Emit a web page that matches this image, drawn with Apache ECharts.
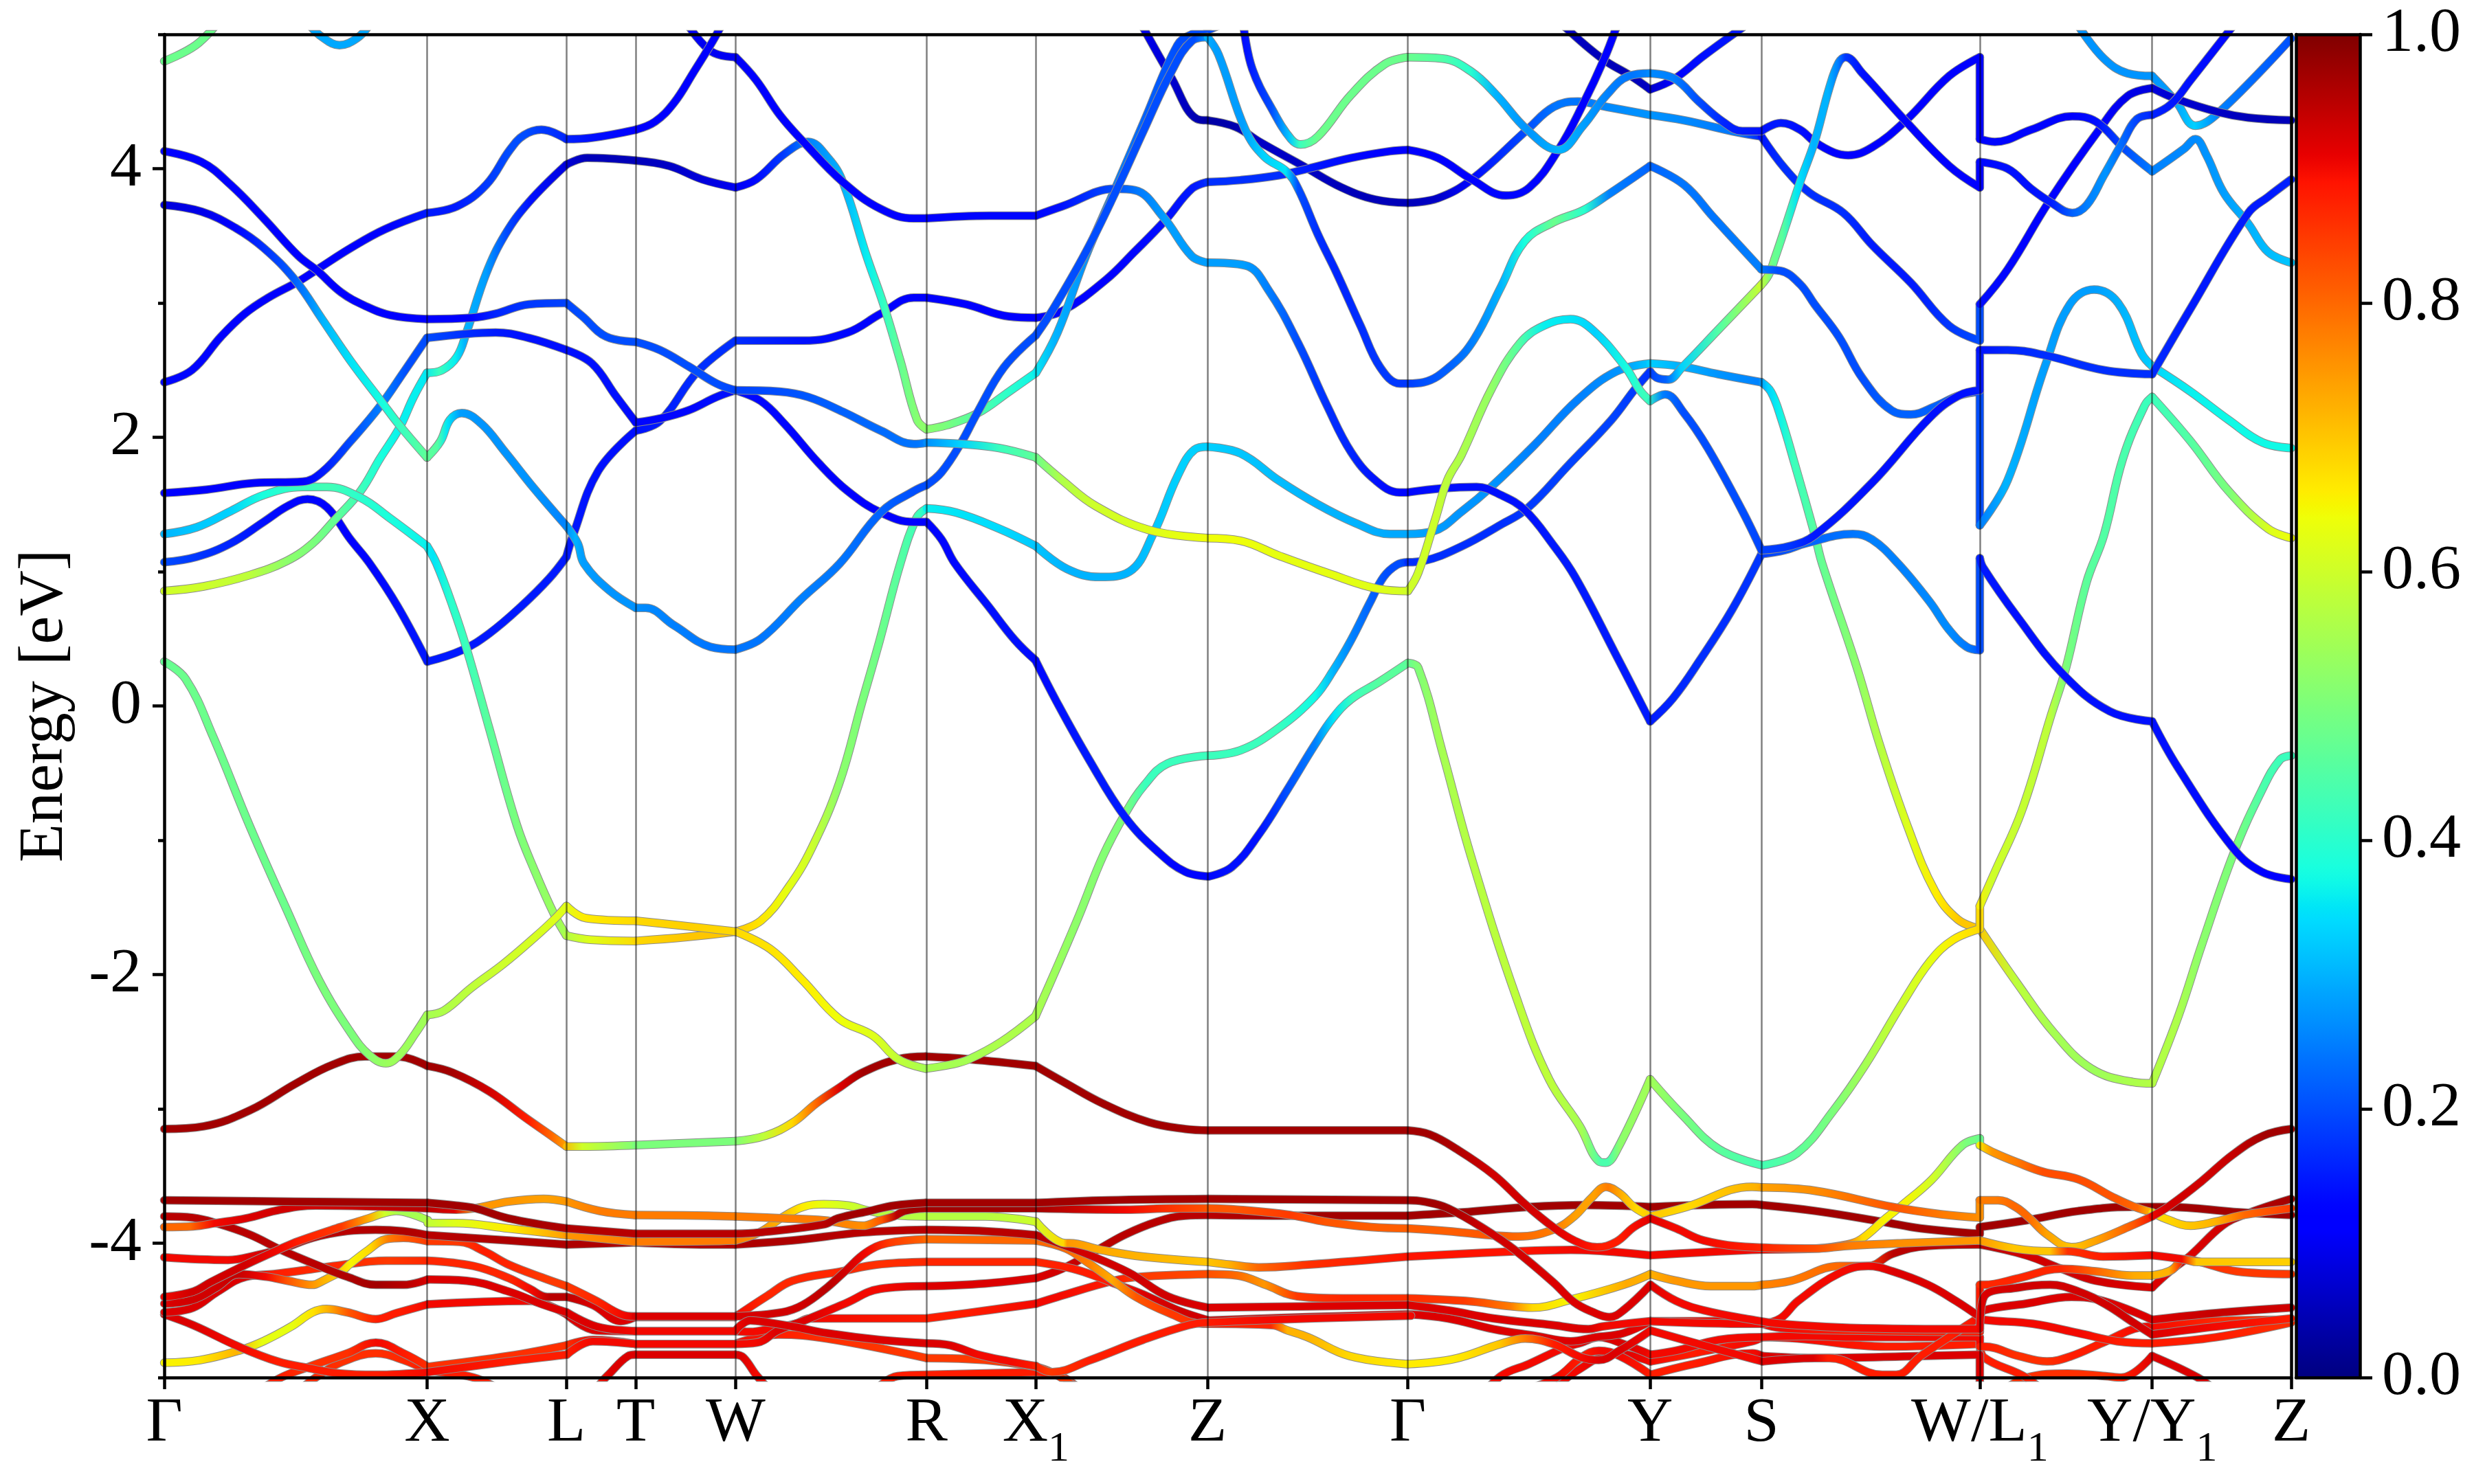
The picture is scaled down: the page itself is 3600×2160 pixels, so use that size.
<!DOCTYPE html>
<html><head><meta charset="utf-8"><style>html,body{margin:0;background:#fff}#c{width:3600px;height:2160px}</style>
<script src="https://cdn.jsdelivr.net/npm/echarts@6/dist/echarts.min.js"></script></head>
<body><div id="c"></div><script>
const tickK=[0,166.5,254.8,298.8,362,483,552.3,661,788,941.5,1012,1150.4,1259.6,1347.7];
const tickLabels=['{m|Γ}','{m|X}','{m|L}','{m|T}','{m|W}','{m|R}','{m|X}{s|1}','{m|Z}','{m|Γ}','{m|Y}','{m|S}','{m|W/L}{s|1}','{m|Y/Y}{s|1}','{m|Z}'];
const yMajor=[-4,-2,0,2,4];
const yMinor=[-5,-3,-1,1,3,5];
// each point: [k, energy, weight]
const bandA=[[0,4.13,.11],[23.6,4.05,.11],[42,3.88,.12],[63,3.63,.12],[85,3.35,.12],[97,3.24,.12],[112,3.08,.11],[127,2.98,.11],[143,2.91,.11],[166.5,2.88,.11],[195,2.89,.12],[210,2.92,.16],[231,2.99,.18],[254.8,3.0,.19],[265,2.9,.2],[280,2.75,.2],[298.8,2.71,.2],[314,2.65,.2],[332,2.53,.2],[350,2.4,.2],[362,2.35,.19],[390,2.34,.2],[408,2.30,.21],[430,2.19,.22],[454,2.05,.23],[475,1.95,.24],[483,1.96,.26],[505,1.95,.33],[529,1.92,.42],[552.3,1.85,.47],[569,1.68,.56],[590,1.49,.6],[624,1.31,.62],[661,1.25,.64],[682,1.23,.64],[706,1.12,.63],[737,.99,.63],[770,.87,.62],[788,.855,.6],[794.5,.99,.6],[805.6,1.4,.6],[813,1.68,.58],[822,1.87,.56],[841,2.36,.53],[859,2.70,.45],[874,2.83,.36],[891,2.88,.35],[905,2.80,.33],[926,2.52,.38],[935,2.35,.42],[941.5,2.27,.42],[951,2.32,.25],[963,2.18,.2],[978,1.92,.2],[1000,1.45,.2],[1012,1.16,.19],[1030,1.19,.18],[1045.7,1.27,.15],[1082,1.66,.14],[1119,2.15,.14],[1137,2.31,.14],[1150.4,2.35,.15],[1150.4,2.65,.14],[1168,2.65,.16],[1192,2.61,.17],[1229,2.5,.17],[1259.6,2.47,.17],[1284,2.96,.15],[1320.5,3.67,.15],[1333,3.79,.15],[1347.7,3.92,.16]];
const bandB=[[0,3.73,.08],[23.6,3.68,.09],[45,3.56,.12],[63,3.41,.17],[83,3.17,.22],[100,2.88,.3],[118,2.57,.35],[138,2.26,.38],[149,2.09,.42],[166.5,1.85,.47],[175,1.97,.45],[181,2.13,.35],[188.5,2.18,.28],[201,2.10,.27],[216,1.89,.27],[234.3,1.62,.27],[254.8,1.34,.25],[262,1.21,.3],[266,1.06,.28],[282,.86,.27],[298.8,.73,.27],[305,.73,.26],[323,.6,.25],[346,.44,.24],[362,.42,.24],[378,.5,.24],[404,.8,.25],[428,1.06,.24],[454,1.44,.22],[475,1.6,.2],[483,1.644,.2],[492.5,1.74,.2],[505,1.96,.2],[515,2.18,.2],[532,2.52,.2],[552.3,2.76,.2],[563,2.95,.2],[584,3.38,.2],[602.5,3.82,.2],[620.8,4.29,.2],[637.6,4.71,.2],[651,4.95,.2],[661,4.98,.3],[668,4.85,.28],[685,4.29,.28],[697,4.09,.33],[711,3.98,.35],[718.5,3.85,.2],[731,3.51,.17],[743,3.22,.16],[758,2.83,.17],[770.5,2.52,.18],[783,2.4,.18],[788,2.4,.18],[798,2.41,.2],[816,2.54,.22],[830,2.73,.25],[847,3.12,.3],[862,3.46,.38],[880,3.6,.48],[899,3.69,.4],[914,3.8,.25],[941.5,4.02,.22],[963,3.88,.24],[981.5,3.64,.24],[1012,3.25,.25],[1024,3.24,.2],[1036.5,3.14,.2],[1045.7,2.99,.2],[1061,2.75,.2],[1076,2.44,.2],[1094.5,2.2,.22],[1106.7,2.17,.22],[1122,2.23,.22],[1137,2.31,.2],[1150.4,2.34,.2],[1150.4,1.345,.24],[1168,1.68,.3],[1192,2.54,.28],[1207.5,2.99,.28],[1222.8,3.1,.28],[1238,3.0,.3],[1253,2.62,.32],[1259.6,2.53,.33],[1284,2.34,.36],[1308,2.13,.37],[1329.7,1.96,.37],[1347.7,1.92,.37]];
const bandC=[[0,2.41,.13],[17.5,2.5,.13],[36,2.75,.12],[51,2.92,.12],[66,3.04,.12],[85,3.16,.12],[97,3.25,.12],[118.3,3.41,.12],[140,3.55,.12],[166.5,3.67,.15],[185.5,3.72,.15],[204,3.88,.18],[219,4.14,.2],[228,4.25,.2],[239,4.29,.18],[254.8,4.22,.16],[271,4.23,.14],[298.8,4.29,.12],[311,4.35,.12],[323,4.49,.12],[335,4.71,.12],[350,5.0,.12],[356,5.15,.12]];
const bandD=[[333,5.05,.1],[347,4.87,.1],[362,4.83,.1],[375,4.66,.11],[390,4.4,.11],[405,4.2,.12],[430,3.9,.12],[454,3.7,.12],[475,3.63,.12],[483,3.63,.12],[523,3.65,.13],[552.3,3.65,.13],[569,3.72,.14],[602.5,3.85,.2],[615,3.84,.24],[633,3.64,.28],[651,3.35,.28],[661,3.3,.28],[685,3.28,.28],[700,3.09,.25],[718.5,2.70,.2],[737,2.23,.17],[752,1.89,.16],[767.4,1.68,.14],[782.7,1.59,.13],[788,1.59,.13],[810,1.62,.14],[831.5,1.63,.14],[847,1.57,.14],[862,1.46,.14],[880,1.2,.15],[894,.96,.15],[919,.4,.15],[941.5,-.115,.15],[956,.057,.16],[973,.34,.17],[993.6,.72,.17],[1012,1.13,.18],[1027,1.16,.2],[1040,1.21,.22],[1070,1.28,.24],[1082,1.24,.25],[1098.6,1.06,.25],[1119,.77,.26],[1130.7,.57,.26],[1142,.44,.24],[1150.4,.415,.2],[1150.4,1.1,.16],[1152.5,1.03,.15],[1174.4,.66,.14],[1203.6,.23,.14],[1232.7,-.04,.14],[1259.6,-.115,.14],[1276,-.46,.14],[1311,-1.06,.13],[1329,-1.235,.12],[1347.7,-1.29,.12]];
const bandF=[[0,1.585,.12],[26.6,1.61,.12],[57,1.66,.12],[87.7,1.67,.12],[100,1.74,.15],[118,1.97,.2],[136.6,2.23,.25],[152,2.49,.2],[166.5,2.74,.2],[191.5,2.77,.17],[210,2.78,.15],[231,2.74,.14],[254.8,2.65,.14],[271,2.55,.14],[286,2.31,.14],[298.8,2.11,.13],[314,2.14,.13],[332,2.2,.13],[350,2.3,.14],[362,2.35,.14],[378,2.27,.13],[393,2.1,.13],[414.5,1.81,.12],[433,1.6,.12],[454,1.44,.12],[475,1.37,.11],[483,1.37,.11],[492.5,1.24,.13],[501,1.06,.13],[522,.745,.14],[539,.49,.14],[552,.34,.13],[565.5,.03,.14],[586,-.4,.15],[609,-.83,.15],[630,-1.09,.13],[647,-1.235,.13],[661.5,-1.27,.13],[676.4,-1.2,.14],[694,-.95,.14],[711.3,-.63,.2],[729,-.29,.25],[740.5,-.09,.35],[752,.05,.42],[770,.18,.46],[788,.32,.46],[794.5,.285,.5],[810.5,-.37,.55],[828,-1.12,.57],[857,-2.18,.58],[877.5,-2.78,.58],[897,-3.13,.55],[909,-3.39,.44],[913.4,-3.4,.44],[920.7,-3.3,.52],[941.5,-2.78,.55],[961.5,-3.04,.5],[985,-3.30,.46],[1012.6,-3.42,.43],[1034.5,-3.33,.46],[1057.8,-3.01,.5],[1078,-2.67,.55],[1101.5,-2.21,.6],[1119,-1.9,.63],[1133.6,-1.74,.66],[1150.4,-1.66,.68],[1150.4,-1.49,.66],[1160,-1.235,.6],[1177,-.78,.59],[1195,-.09,.58],[1205,.285,.5],[1218,.92,.46],[1229,1.27,.45],[1241,1.84,.44],[1255,2.24,.42],[1259.6,2.3,.42],[1284,1.97,.45],[1308,1.6,.5],[1333,1.32,.62],[1347.7,1.25,.64]];
const bandG=[[0,.33,.47],[13.6,.2,.48],[31,-.23,.48],[54,-.89,.48],[77.7,-1.52,.48],[98,-2.04,.5],[118.6,-2.44,.5],[130,-2.6,.52],[140.4,-2.66,.54],[149,-2.6,.54],[159,-2.44,.54],[166.7,-2.3,.55],[177,-2.27,.56],[194.4,-2.1,.58],[215,-1.92,.6],[235,-1.72,.61],[247,-1.59,.62],[254.8,-1.49,.62],[267.3,-1.58,.66],[298.8,-1.6,.68],[331.4,-1.64,.69],[362,-1.68,.68],[384,-1.81,.67],[404.3,-2.04,.66],[427.7,-2.33,.64],[449,-2.455,.62],[465,-2.63,.58],[482.5,-2.7,.55],[498.5,-2.67,.55],[510,-2.63,.55],[530.5,-2.5,.56],[552,-2.31,.56],[565.5,-1.95,.54],[580,-1.55,.52],[594.7,-1.12,.51],[609,-.8,.5],[621,-.59,.42],[635.5,-.43,.42],[661.5,-.37,.42],[682,-.33,.42],[705.5,-.17,.42],[729,.07,.37],[740.5,.26,.3],[752,.49,.25],[764,.77,.22],[772.6,.96,.2],[781,1.05,.2],[788,1.07,.17],[798,1.08,.17],[822.4,1.19,.17],[847,1.35,.17],[863.6,1.47,.18],[889.6,1.79,.19],[917,2.13,.19],[932,2.36,.18],[941.5,2.49,.17],[946.4,2.44,.2],[953,2.43,.22],[961.7,2.52,.33],[984.6,2.8,.45],[1011.5,3.13,.6],[1016.6,3.21,.55],[1021,3.35,.48],[1027,3.56,.46],[1036.5,3.9,.35],[1045.7,4.2,.3],[1055,4.6,.3],[1061,4.79,.25],[1065.5,4.83,.18],[1076,4.71,.14],[1103.7,4.35,.12],[1131,4.02,.11],[1150.4,3.86,.11],[1150.4,4.05,.13],[1168,4.0,.14],[1183,3.85,.14],[1195.3,3.75,.15],[1209,3.67,.22],[1218.2,3.73,.25],[1229,3.95,.27],[1241,4.2,.22],[1250,4.37,.18],[1259.6,4.40,.16],[1271.6,4.48,.15],[1284,4.66,.14],[1310,5.05,.13]];
const bandL=[[0,1.28,.3],[20.5,1.33,.32],[42,1.45,.33],[63,1.57,.38],[87.7,1.63,.42],[103,1.63,.43],[124.4,1.55,.4],[142.7,1.40,.38],[166.5,1.19,.36],[172.5,1.06,.35],[182.7,.745,.4],[191.5,.43,.42],[206,-.17,.46],[223.5,-.89,.5],[235,-1.235,.52],[247,-1.55,.54],[254.8,-1.71,.56],[270,-1.74,.62],[298.8,-1.75,.68],[331.4,-1.72,.7],[362,-1.68,.7],[378,-1.6,.67],[395.6,-1.35,.63],[410.2,-1.06,.6],[427.7,-.575,.52],[442.2,.03,.5],[453.3,.487,.48],[466.4,1.06,.45],[476.7,1.4,.42],[483,1.47,.36],[501.7,1.44,.35],[529,1.32,.34],[552.3,1.19,.32],[572,1.02,.3],[593,.96,.3],[611.6,1.0,.3],[627,1.29,.32],[642,1.71,.33],[653,1.91,.33],[661,1.93,.33],[682,1.88,.32],[706,1.68,.31],[731,1.5,.3],[755,1.36,.3],[776.6,1.28,.29],[788,1.28,.29],[804,1.3,.28],[822.4,1.45,.27],[840.7,1.63,.27],[868,1.94,.25],[895.7,2.28,.25],[920,2.49,.27],[941.5,2.55,.33],[960,2.53,.3],[984.6,2.47,.27],[1012,2.41,.25],[1018,2.34,.33],[1024.3,2.15,.36],[1033.4,1.79,.42],[1045.7,1.28,.45],[1050.5,1.06,.47],[1072.4,.29,.52],[1087,-.29,.57],[1104.4,-.89,.62],[1122,-1.38,.66],[1136.5,-1.59,.7],[1150.4,-1.66,.7],[1174.4,-2.07,.58],[1197.8,-2.44,.55],[1221,-2.7,.54],[1247.3,-2.8,.56],[1259.6,-2.81,.57],[1276.5,-2.3,.56],[1291,-1.78,.52],[1311.5,-1.09,.5],[1329,-.63,.44],[1340.6,-.4,.42],[1347.7,-.37,.42]];
const bandM=[[0,.855,.6],[25,.89,.6],[54.4,.975,.58],[77.7,1.08,.52],[94,1.21,.5],[107.6,1.38,.47],[124.4,1.6,.42],[136.6,1.84,.38],[149,2.07,.36],[158,2.3,.36],[166.5,2.48,.35],[176,2.5,.42],[185.5,2.6,.36],[191.5,2.78,.3],[204,3.22,.28],[216,3.51,.2],[231,3.75,.14],[254.8,4.03,.08],[268,4.08,.05],[298.8,4.06,.05],[320,4.02,.06],[341,3.92,.08],[362,3.86,.1],[375,3.92,.13],[393,4.11,.18],[408,4.2,.25],[420.6,4.08,.28],[430,3.9,.3],[445,3.35,.36],[455.7,2.99,.42],[466.4,2.57,.48],[477,2.13,.52],[483,2.06,.52],[495.6,2.09,.5],[515.5,2.18,.45],[535.3,2.34,.4],[552.3,2.48,.36],[566,2.78,.3],[584,3.35,.27],[602.5,3.85,.25],[620.8,4.35,.22],[642,4.92,.2],[651,5.0,.2],[661,5.03,.2],[675,5.1,.2]];
const bandP=[[684,5.05,.13],[689.5,4.74,.15],[703,4.42,.2],[714,4.22,.32],[720,4.18,.42],[731,4.24,.48],[752,4.55,.48],[773.5,4.78,.48],[788,4.83,.48],[810,4.82,.45],[828.5,4.72,.4],[844,4.55,.3],[863.6,4.29,.27],[883.4,4.14,.3],[899,4.32,.28],[914,4.55,.25],[928,4.69,.24],[941.5,4.71,.26],[957,4.67,.25],[972.4,4.5,.2],[987.6,4.35,.16],[1000,4.28,.15],[1012,4.28,.14],[1024.3,4.34,.15],[1036.5,4.29,.14],[1045.7,4.2,.13],[1058,4.12,.12],[1067,4.1,.11],[1082.3,4.16,.11],[1103.7,4.36,.11],[1131,4.69,.11],[1150.4,4.83,.11],[1150.4,4.22,.12],[1160,4.2,.13],[1183,4.29,.13],[1209,4.39,.12],[1224,4.35,.14],[1241,4.16,.2],[1259.6,3.98,.25],[1280,4.15,.26],[1287,4.22,.26],[1294,4.1,.27],[1305,3.82,.28],[1320.5,3.59,.3],[1333,3.38,.31],[1347.7,3.3,.32]];
const bandK=[[0,1.07,.2],[20.5,1.11,.18],[42,1.21,.16],[63,1.37,.14],[78.5,1.49,.13],[90.8,1.54,.13],[103,1.48,.12],[118,1.24,.12],[130.2,1.06,.13],[147.7,.745,.14],[166.7,.33,.15],[188.6,.415,.15],[206,.54,.15],[226.5,.745,.15],[244,.95,.15],[254.8,1.11,.15],[259,1.27,.15],[275,1.75,.14],[298.8,2.05,.14],[314,2.12,.15],[338,2.49,.17],[362,2.72,.17],[405,2.72,.14],[433,2.78,.13],[454,2.92,.12],[475,3.04,.12],[483,3.04,.12],[508,2.99,.12],[535,2.9,.12],[552.3,2.89,.12],[569,2.94,.13],[596.4,3.17,.12],[614.7,3.38,.13],[634.6,3.62,.14],[651,3.85,.15],[661,3.9,.17],[682,3.915,.17],[706,3.95,.17],[724.6,4.0,.15],[752,4.08,.13],[776.6,4.13,.12],[788,4.14,.12],[807,4.08,.12],[828.5,3.92,.12],[850,3.8,.13],[865,3.86,.13],[883.4,4.14,.12],[899,4.48,.12],[912.5,4.82,.12],[920,5.05,.12]];
const bandJ=[[618,5.1,.1],[637.6,4.69,.07],[654.4,4.37,.04],[661,4.36,.03],[679,4.31,.04],[694,4.2,.06],[721.6,4.02,.06],[746,3.86,.05],[767.4,3.77,.05],[788,3.745,.05],[807,3.78,.06],[828.5,3.92,.13],[863.6,4.29,.2],[880.4,4.46,.24],[895.7,4.5,.24],[914,4.46,.26],[941.5,4.4,.27],[963,4.36,.26],[997,4.27,.24],[1012,4.24,.14],[1027,4.0,.17],[1042.6,3.82,.17],[1064,3.67,.17],[1082.3,3.43,.15],[1106.7,3.15,.15],[1131,2.83,.18],[1150.4,2.72,.2],[1150.4,2.99,.14],[1168,3.25,.13],[1194,3.75,.12],[1226,4.29,.12],[1244,4.54,.09],[1259.6,4.6,.08],[1274.7,4.52,.07],[1302,4.42,.06],[1320.5,4.38,.05],[1347.7,4.36,.05]];
const bandN=[[888,5.05,.06],[911,4.82,.05],[929.3,4.69,.05],[941.5,4.59,.06],[957,4.67,.12],[975.4,4.84,.14],[1000,5.05,.15]];
const bandS=[[1213.6,5.05,.27],[1229,4.82,.27],[1244,4.71,.27],[1259.6,4.69,.27],[1274.7,4.5,.28],[1287,4.32,.33],[1302,4.42,.25],[1347.7,4.97,.2]];
const bandTopA=[[0,4.8,.48],[20,4.92,.48],[35,5.1,.48]];
const bandTopB=[[92,5.07,.29],[100,4.98,.29],[111,4.92,.29],[122,4.97,.29],[130,5.07,.29]];
const bandQ=[[0,-3.15,.97],[25,-3.13,.97],[54.4,-3.01,.97],[83.6,-2.81,.97],[107,-2.67,.97],[127.3,-2.61,.97],[147.7,-2.61,.97],[166.7,-2.68,.97],[182.7,-2.73,.97],[206,-2.87,.93],[229.4,-3.07,.88],[244,-3.19,.8],[254.8,-3.28,.72],[266,-3.28,.6],[298.8,-3.27,.5],[362,-3.24,.5],[381,-3.2,.58],[398.5,-3.1,.68],[413,-2.96,.8],[428,-2.84,.92],[442.3,-2.73,.97],[465,-2.63,.97],[482.5,-2.61,.97],[510,-2.63,.97],[552,-2.68,.97],[571.4,-2.81,.97],[594.7,-2.96,.97],[624,-3.1,.97],[647,-3.15,.97],[661.5,-3.16,.97],[787.7,-3.16,.97],[801.7,-3.19,.97],[819,-3.3,.96],[842.3,-3.49,.93],[862.3,-3.71,.93],[880,-3.88,.92],[893.4,-3.98,.9],[907.9,-4.03,.88],[920,-3.99,.88],[931.2,-3.88,.9],[941.7,-3.815,.92],[958,-3.89,.9],[975.6,-3.98,.9],[1006.3,-4.03,.88],[1046,-4.04,.83],[1066.3,-4.02,.78],[1101.9,-4.0,.76],[1150.4,-3.98,.75],[1173,-4.04,.7],[1195.2,-4.06,.7],[1206,-4.06,.86],[1228.5,-4.10,.88],[1259.6,-4.09,.9],[1279.7,-4.12,.9],[1288.5,-4.14,.7],[1347.7,-4.14,.69]];
const bandR=[[0,-3.68,.97],[83,-3.69,.97],[167,-3.70,.97],[185,-3.72,.97],[197,-3.74,.97],[218,-3.815,.97],[255,-3.89,.96],[298.3,-3.93,.95],[344.5,-3.93,.95],[361.7,-3.93,.95],[376.8,-3.92,.95],[418,-3.86,.95],[426.8,-3.815,.97],[446.8,-3.76,.97],[462.4,-3.72,.97],[482.4,-3.70,.97],[552.4,-3.70,.97],[598,-3.68,.97],[661.7,-3.67,.97],[788,-3.68,.97],[798,-3.69,.97],[813.4,-3.74,.97],[840,-3.92,.93],[855.7,-4.05,.93],[880,-4.29,.92],[893.4,-4.44,.92],[904.6,-4.51,.92],[915.6,-4.55,.92],[924.5,-4.5,.92],[941.7,-4.31,.92],[958,-4.43,.9],[975.6,-4.5,.9],[1006,-4.57,.9],[1024,-4.6,.9],[1068,-4.63,.9],[1150.4,-4.64,.9],[1153,-4.4,.92],[1175,-4.33,.93],[1195,-4.31,.93],[1213,-4.36,.93],[1230.8,-4.46,.93],[1246.3,-4.58,.93],[1259.6,-4.68,.92],[1300,-4.62,.9],[1347.7,-4.56,.88]];
const bandO=[[0,-3.88,.8],[18.3,-3.875,.8],[32.8,-3.85,.9],[51.7,-3.815,.92],[73.9,-3.75,.93],[96,-3.72,.93],[167,-3.74,.95],[185,-3.75,.92],[197,-3.74,.75],[218.3,-3.69,.75],[240.5,-3.67,.74],[255,-3.69,.75],[276,-3.76,.78],[298.3,-3.79,.78],[344.5,-3.795,.78],[361.7,-3.80,.78],[391.3,-3.815,.78],[418,-3.83,.78],[442.4,-3.87,.76],[453.5,-3.83,.82],[462.4,-3.8,.95],[469,-3.76,.97],[482,-3.74,.97],[552.4,-3.74,.97],[609,-3.75,.9],[640,-3.74,.85],[661.7,-3.74,.82],[680,-3.75,.82],[713.4,-3.79,.85],[735.7,-3.84,.82],[764.6,-3.88,.81],[788,-3.89,.81],[813.4,-3.91,.81],[840,-3.94,.82],[858,-3.95,.8],[880,-3.90,.78],[893.4,-3.8,.74],[904.6,-3.66,.74],[913.5,-3.58,.78],[922.3,-3.63,.72],[931.2,-3.73,.68],[941.7,-3.8,.7],[964.5,-3.73,.68],[1006,-3.58,.72],[1012.6,-3.585,.74],[1046,-3.61,.76],[1095,-3.73,.82],[1126,-3.785,.78],[1150.4,-3.81,.76],[1150.4,-3.68,.78],[1162,-3.68,.78],[1173,-3.73,.8],[1182,-3.815,.8],[1193,-3.935,.74],[1208.5,-4.03,.7],[1224,-3.98,.74],[1246.3,-3.87,.82],[1259.6,-3.8,.9],[1270.8,-3.72,.93],[1290.8,-3.54,.93],[1310.8,-3.34,.94],[1330,-3.2,.97],[1347.7,-3.15,.97]];
const bandY=[[0,-4.40,.9],[18.3,-4.36,.93],[29.4,-4.29,.93],[51.7,-4.16,.93],[74,-4.04,.9],[85,-3.985,.88],[111.6,-3.88,.85],[129.4,-3.815,.72],[138,-3.78,.6],[147,-3.76,.55],[156,-3.78,.55],[167,-3.83,.56],[167,-3.85,.58],[185,-3.85,.62],[218,-3.89,.66],[255,-3.94,.75],[298,-3.99,.78],[344.5,-3.985,.78],[361.7,-3.98,.78],[377,-3.92,.76],[391.3,-3.81,.72],[404.6,-3.73,.66],[418,-3.71,.63],[433.5,-3.72,.6],[446.8,-3.76,.58],[462.4,-3.79,.57],[482.4,-3.8,.57],[520,-3.80,.57],[552.4,-3.84,.6],[571.3,-4.0,.68],[573.5,-4.0,.75],[593.5,-4.05,.73],[620,-4.10,.72],[661.7,-4.14,.7],[675.7,-4.16,.72],[693.5,-4.18,.8],[724.6,-4.16,.86],[787.9,-4.10,.89],[857.9,-4.06,.89],[891.2,-4.05,.9],[941.7,-4.09,.9],[1006,-4.05,.9],[1046.3,-4.04,.88],[1066.3,-4.01,.78],[1075.2,-3.97,.68],[1090.8,-3.815,.65],[1101.9,-3.71,.65],[1119.7,-3.53,.6],[1139.4,-3.27,.5],[1150.4,-3.22,.48],[1150.4,-3.27,.65],[1160,-3.33,.75],[1174.4,-3.40,.78],[1190.8,-3.47,.83],[1213,-3.525,.83],[1235.2,-3.66,.82],[1248.5,-3.73,.8],[1259.6,-3.77,.68],[1268.5,-3.82,.68],[1284,-3.87,.7],[1299.7,-3.84,.72],[1317.4,-3.79,.8],[1347.7,-3.74,.85]];
const bandD2=[[0,-3.80,.95],[18.3,-3.81,.95],[32.8,-3.85,.95],[54,-3.935,.95],[74,-4.05,.95],[98.3,-4.17,.95],[116,-4.25,.96],[134,-4.31,.97],[151.6,-4.31,.95],[167,-4.27,.92],[191.6,-4.28,.92],[218.3,-4.36,.92],[238.3,-4.45,.92],[255,-4.515,.92],[273.9,-4.62,.92],[298.3,-4.655,.9],[361.7,-4.655,.9],[371.3,-4.575,.92],[382.4,-4.59,.92],[398,-4.62,.92],[420,-4.67,.92],[453.5,-4.72,.92],[483,-4.745,.92],[498,-4.76,.92],[515.7,-4.83,.9],[535.7,-4.88,.9],[552.4,-4.915,.88],[562.4,-4.96,.85],[586.8,-4.87,.88],[620,-4.72,.88],[649,-4.61,.88],[661.7,-4.59,.88],[700,-4.57,.9],[790,-4.54,.9]];
const bandE1=[[0,-4.105,.9],[40.5,-4.125,.9],[58.3,-4.09,.92],[75,-4.04,.95],[94,-3.96,.95],[116,-3.91,.95],[134,-3.9,.96],[151.6,-3.91,.96],[167,-3.94,.95],[218.3,-3.98,.96],[255,-4.01,.96],[298,-3.995,.96],[344.5,-4.01,.96],[361.7,-4.01,.96],[398,-3.98,.96],[442.4,-3.92,.95],[482.4,-3.90,.95],[520,-3.91,.95],[552.4,-3.94,.95],[566.8,-4.0,.95],[582.4,-4.07,.93],[611.3,-4.22,.93],[635.7,-4.395,.93],[661.7,-4.48,.92],[724.6,-4.47,.92],[788,-4.46,.92],[813.4,-4.5,.92],[842.3,-4.56,.92],[880,-4.61,.92],[902.3,-4.64,.92],[911.2,-4.62,.9],[941.7,-4.58,.9],[1006.3,-4.60,.9],[1012.6,-4.60,.9],[1024,-4.56,.9],[1035.2,-4.43,.9],[1061.9,-4.22,.9],[1079.7,-4.17,.9],[1095.2,-4.21,.92],[1117.5,-4.31,.92],[1135.2,-4.43,.92],[1150.4,-4.55,.92],[1153,-4.5,.92],[1179.7,-4.45,.92],[1208.5,-4.40,.92],[1228.5,-4.43,.92],[1259.6,-4.57,.92],[1300,-4.52,.94],[1347.7,-4.48,.93]];
const bandE2=[[0,-4.45,.92],[18.3,-4.42,.93],[33,-4.33,.93],[47.2,-4.23,.94],[65,-4.25,.9],[78.3,-4.28,.82],[93.9,-4.31,.75],[100.5,-4.28,.72],[107.2,-4.24,.7],[112.7,-4.21,.68],[117.2,-4.16,.65],[129.4,-4.05,.68],[140.5,-3.97,.78],[151.6,-3.96,.82],[167,-3.985,.85],[187,-3.99,.85],[202.7,-4.06,.88],[218.3,-4.16,.87],[240.5,-4.26,.85],[255,-4.32,.85],[273.9,-4.43,.87],[289.4,-4.53,.9],[298.3,-4.545,.92],[361.7,-4.545,.92],[391.3,-4.515,.93],[404.6,-4.46,.93],[420,-4.33,.95],[431.3,-4.21,.93],[444.6,-4.07,.9],[458,-4.0,.85],[483,-3.97,.8],[552.4,-3.98,.8],[571.3,-4.04,.8],[584.6,-4.14,.78],[600.2,-4.27,.73],[615.7,-4.40,.82],[635.7,-4.515,.85],[658,-4.6,.86],[661.7,-4.6,.88],[702,-4.61,.87],[712,-4.65,.72],[724.6,-4.70,.72],[751.2,-4.84,.68],[787.9,-4.90,.66],[817.9,-4.86,.66],[846.8,-4.75,.7],[862.3,-4.71,.78],[880,-4.75,.88],[897.9,-4.85,.9],[909,-4.87,.92],[922,-4.80,.92],[941.7,-4.65,.9],[969,-4.74,.9],[1006.3,-4.86,.9],[1012.6,-4.88,.92],[1046,-4.855,.92],[1055,-4.855,.88],[1088.6,-4.98,.88],[1097.4,-4.98,.88],[1113,-4.84,.88],[1139.7,-4.63,.88],[1150.4,-4.55,.9],[1153,-4.57,.9],[1184,-4.6,.9],[1213,-4.67,.9],[1237.4,-4.73,.88],[1259.6,-4.745,.88],[1300,-4.7,.88],[1347.7,-4.59,.86]];
const bandF2=[[0,-4.515,.92],[18.3,-4.48,.92],[33.9,-4.36,.92],[51.7,-4.25,.92],[69.4,-4.23,.88],[89.4,-4.2,.87],[107.2,-4.17,.87],[140.5,-4.13,.85],[167,-4.13,.87],[196,-4.17,.87],[218.3,-4.26,.87],[231.6,-4.34,.9],[242.7,-4.40,.95],[255,-4.40,.95],[271.6,-4.46,.92],[289.4,-4.58,.92],[298.3,-4.55,.92],[361.7,-4.55,.9],[382.4,-4.39,.87],[398,-4.28,.87],[429,-4.21,.87],[451.3,-4.16,.86],[483,-4.14,.87],[552.4,-4.14,.87],[575.7,-4.19,.88],[593.5,-4.26,.88],[602,-4.3,.88],[620,-4.38,.92],[642.4,-4.5,.93],[661.7,-4.575,.93],[724.6,-4.55,.92],[788,-4.53,.92],[813.4,-4.56,.92],[842.3,-4.64,.92],[869,-4.69,.92],[891.2,-4.73,.92],[906.8,-4.70,.92],[924.5,-4.67,.92],[941.7,-4.58,.9],[1006,-4.58,.9],[1012.6,-4.60,.9],[1024,-4.63,.9],[1068.6,-4.65,.88],[1150.4,-4.66,.88],[1150.4,-4.31,.86],[1153,-4.31,.87],[1175.2,-4.26,.87],[1201.9,-4.19,.87],[1224,-4.21,.8],[1246.3,-4.24,.73],[1259.6,-4.24,.72],[1271.9,-4.2,.72],[1279.7,-4.12,.88],[1290,-4.14,.86],[1313,-4.21,.85],[1347.7,-4.23,.85]];
const bandG2=[[0,-4.53,.92],[18.3,-4.61,.92],[47.2,-4.77,.9],[71.7,-4.88,.88],[91.6,-4.93,.88],[111.6,-4.97,.88],[134,-4.98,.88],[167,-4.96,.9],[218.3,-4.88,.88],[255,-4.83,.88],[271.6,-4.73,.9],[298.3,-4.75,.9],[361.7,-4.75,.9],[375.7,-4.74,.9],[389,-4.65,.92],[406.8,-4.57,.92],[431.3,-4.45,.9],[453.5,-4.34,.9],[483,-4.32,.92],[520,-4.30,.92],[552.4,-4.26,.92],[569,-4.19,.93],[591.3,-4.05,.95],[609,-3.935,.95],[629,-3.84,.95],[646.9,-3.795,.95],[661.7,-3.79,.95],[713.4,-3.795,.97],[788,-3.795,.97],[822.3,-3.77,.97],[864.6,-3.73,.97],[900.1,-3.716,.97],[941.7,-3.73,.97],[1006.3,-3.71,.97],[1012.6,-3.716,.97],[1046.3,-3.76,.97],[1088.6,-3.84,.97],[1113,-3.89,.97],[1150.4,-3.93,.97],[1150.4,-3.88,.97],[1179.7,-3.83,.97],[1213,-3.76,.97],[1246.3,-3.73,.97],[1268.5,-3.73,.97],[1315,-3.77,.97],[1347.7,-3.79,.97]];
const bandH=[[0,-4.89,.65],[22.8,-4.87,.66],[47.2,-4.8,.72],[62.8,-4.73,.63],[80.5,-4.62,.63],[93.9,-4.515,.67],[102.8,-4.49,.72],[116,-4.515,.82],[134,-4.565,.88],[147.2,-4.52,.88],[167,-4.455,.9],[231.6,-4.43,.9],[242.7,-4.46,.9],[255,-4.53,.92],[273.9,-4.65,.92],[298.3,-4.655,.9],[361.7,-4.655,.9],[371,-4.66,.9],[386.8,-4.63,.9],[400,-4.6,.92],[409,-4.56,.9],[483,-4.56,.88],[509,-4.52,.88],[552.4,-4.45,.9],[566,-4.4,.9],[601.3,-4.28,.88],[618,-4.25,.85],[661.7,-4.23,.83],[680,-4.24,.8],[697.9,-4.31,.75],[717.9,-4.395,.85],[746.8,-4.41,.87],[787.9,-4.41,.86],[824.6,-4.43,.85],[853.4,-4.47,.78],[866.8,-4.48,.68],[891.2,-4.42,.65],[924.5,-4.31,.73],[941.7,-4.23,.72],[958,-4.28,.75],[980,-4.32,.75],[1006.3,-4.32,.75],[1012.6,-4.31,.77],[1030.8,-4.28,.78],[1061.9,-4.17,.8],[1079.7,-4.17,.85],[1095,-4.08,.95],[1117.5,-4.02,.95],[1150.4,-4.01,.95],[1179.7,-4.09,.93],[1201.9,-4.19,.93],[1224,-4.28,.93],[1259.6,-4.33,.92],[1270.8,-4.21,.92],[1284,-4.09,.92],[1304,-3.87,.93],[1317.4,-3.79,.95],[1347.7,-3.67,.97]];
const bandU=[[60,-5.1,.88],[74,-5.0,.88],[91.6,-4.92,.86],[116,-4.82,.86],[134,-4.74,.9],[151.6,-4.82,.88],[167,-4.92,.86],[218,-4.84,.86],[255,-4.76,.86],[271.6,-4.72,.9],[298.3,-4.75,.9],[361.7,-4.75,.9],[389,-4.68,.88],[420,-4.71,.86],[483,-4.855,.85],[520,-4.87,.85],[552.4,-4.92,.85],[562,-4.96,.85],[575,-5.05,.85]];
const bandU2=[[85,-5.1,.87],[96,-5.0,.87],[111.6,-4.89,.86],[134,-4.82,.86],[151.6,-4.87,.87],[167,-4.95,.88],[196,-5.0,.88],[230,-5.15,.88],[270,-5.1,.88],[280.5,-4.99,.92],[293.9,-4.84,.92],[298.3,-4.83,.92],[361.7,-4.83,.92],[366.9,-4.85,.92],[375.7,-4.99,.9],[400,-5.3,.9]];
const bandV=[[450,-5.1,.88],[464.6,-4.99,.88],[483,-4.98,.88],[552,-4.96,.88],[570,-5.0,.88],[590,-5.2,.88]];
const bandW1=[[830,-5.2,.9],[846.8,-4.99,.9],[864.6,-4.9,.9],[886.8,-4.78,.9],[897.9,-4.74,.91],[909,-4.70,.92],[924.5,-4.75,.92],[941.7,-4.83,.9],[958,-4.80,.9],[985,-4.72,.9],[1012,-4.7,.9],[1040,-4.69,.9],[1068.6,-4.70,.9],[1150.4,-4.70,.9],[1150.4,-4.77,.88],[1153,-4.77,.88],[1175,-4.84,.86],[1193,-4.88,.86],[1208.5,-4.84,.88],[1228.5,-4.74,.88],[1253,-4.625,.9],[1259.6,-4.62,.9],[1300,-4.58,.87],[1347.7,-4.57,.86]];
const bandW2=[[860,-5.1,.9],[882.3,-5.0,.9],[897.9,-4.85,.88],[909,-4.8,.9],[922.3,-4.84,.9],[941.7,-4.98,.88],[969,-4.9,.88],[1006.3,-4.82,.9],[1012.6,-4.84,.92],[1046,-4.855,.92],[1113,-4.84,.92],[1150.4,-4.83,.92],[1150.4,-5.1,.92]];
const bandW3=[[880,-5.1,.9],[895,-4.95,.9],[920,-4.82,.92],[941.7,-4.88,.9],[969,-4.82,.88],[1006.3,-4.73,.9],[1012.6,-4.7,.9],[1035,-4.71,.9],[1090.8,-4.77,.88],[1150.4,-4.75,.88],[1153,-4.85,.88],[1179.7,-5.0,.88],[1195,-5.15,.88]];
const bandW4=[[1165,-5.1,.86],[1180,-5.0,.86],[1206,-4.97,.86],[1230,-4.99,.86],[1240,-5.0,.88],[1259.6,-4.84,.92],[1288.5,-5.0,.92],[1300,-5.1,.92]];
const allBands=[bandTopA,bandTopB,bandW4,bandW3,bandW2,bandW1,bandV,bandU2,bandU,bandH,bandG2,bandF2,bandE2,bandE1,bandD2,bandY,bandO,bandR,bandQ,bandS,bandN,bandJ,bandK,bandP,bandM,bandL,bandG,bandF,bandD,bandC,bandB,bandA];

// matplotlib "jet" channel knots
const jetR=[[0,0],[.35,0],[.66,1],[.89,1],[1,.5]];
const jetG=[[0,0],[.125,0],[.375,1],[.64,1],[.91,0],[1,0]];
const jetB=[[0,.5],[.11,1],[.34,1],[.65,0],[1,0]];
function chan(kn,v){for(let i=1;i<kn.length;i++){if(v<=kn[i][0]){const t=(v-kn[i-1][0])/(kn[i][0]-kn[i-1][0]);return kn[i-1][1]+(kn[i][1]-kn[i-1][1])*t;}}return kn[kn.length-1][1];}
function jet(v){return `rgb(${[jetR,jetG,jetB].map(c=>Math.round(255*chan(c,v))).join(',')})`;}
const font='"Liberation Serif"';
const innerTicks=tickK.slice(1,-1);
function splitAtTicks(b){
  const pieces=[];let cur=[b[0]];
  for(let i=1;i<b.length;i++){
    cur.push(b[i]);
    const atTick=innerTicks.some(t=>Math.abs(b[i][0]-t)<=1);
    if(atTick&&i<b.length-1){pieces.push(cur);cur=[b[i]];}
  }
  if(cur.length>1)pieces.push(cur);
  return pieces;
}
const series=[];
const baseLine={type:'line',xAxisIndex:0,yAxisIndex:0,showSymbol:false,symbol:'none',smooth:.4,silent:true,animation:false,clip:true};
allBands.forEach(b=>{
  const pieces=splitAtTicks(b);
  pieces.forEach(p=>series.push({...baseLine,data:p.map(q=>[q[0],q[1]]),lineStyle:{width:12.5,color:'#8c8c8c',cap:'round',join:'round'}}));
  pieces.forEach(p=>{
    const k0=p[0][0],k1=p[p.length-1][0];
    const col=k1-k0<1?jet(p[0][2]):new echarts.graphic.LinearGradient(0,0,1,0,p.map(q=>({offset:Math.min(1,Math.max(0,(q[0]-k0)/(k1-k0))),color:jet(q[2])})));
    series.push({...baseLine,data:p.map(q=>[q[0],q[1]]),lineStyle:{width:10.5,color:col,cap:'round',join:'round'}});
  });
});
const cbStops=[];for(let i=0;i<=100;i++)cbStops.push({offset:i/100,color:jet(i/100)});
series.push({type:'bar',xAxisIndex:2,yAxisIndex:3,data:[1],barWidth:'100%',silent:true,animation:false,itemStyle:{color:new echarts.graphic.LinearGradient(0,1,0,0,cbStops)}});
const spine={lineStyle:{color:'#000',width:4.5}};
const chart=echarts.init(document.getElementById('c'),null,{renderer:'canvas',width:3600,height:2160});
chart.setOption({backgroundColor:'#fff',animation:false,
 grid:[{left:239,top:50,width:3095,height:1955,outerBoundsMode:'none'},{left:3341,top:50,width:93,height:1955,outerBoundsMode:'none'}],
 xAxis:[
  {gridIndex:0,type:'value',position:'bottom',min:0,max:1347.7,z:6,axisLine:{show:true,onZero:false,...spine},
   axisTick:{show:true,length:17,customValues:tickK,lineStyle:{width:4.5,color:'#000'}},
   splitLine:{show:true,lineStyle:{color:'rgba(0,0,0,0.5)',width:2.5}},
   axisLabel:{customValues:tickK,margin:22,color:'#000',hideOverlap:false,
    formatter:v=>tickLabels[tickK.indexOf(v)]||'',
    rich:{m:{fontFamily:font,fontSize:92,lineHeight:92,color:'#000',verticalAlign:'top'},
          s:{fontFamily:font,fontSize:62,lineHeight:114,color:'#000',verticalAlign:'bottom'}}}},
  {gridIndex:0,type:'value',position:'top',min:0,max:1347.7,z:6,axisLine:{show:true,onZero:false,...spine},axisTick:{show:false},axisLabel:{show:false},splitLine:{show:false}},
  {gridIndex:1,type:'category',position:'bottom',data:['c'],z:6,axisLine:{show:true,onZero:false,...spine},axisTick:{show:false},axisLabel:{show:false},splitLine:{show:false}},
  {gridIndex:1,type:'category',position:'top',data:['c'],z:6,axisLine:{show:true,onZero:false,...spine},axisTick:{show:false},axisLabel:{show:false},splitLine:{show:false}}
 ],
 yAxis:[
  {gridIndex:0,type:'value',position:'left',min:-5,max:5,interval:1,z:6,axisLine:{show:true,onZero:false,...spine},
   axisTick:{show:true,length:17,customValues:yMajor,lineStyle:{width:4.5,color:'#000'}},splitLine:{show:false},
   axisLabel:{customValues:yMajor,margin:33,color:'#000',fontFamily:font,fontSize:92},
   name:'Energy [eV]',nameLocation:'middle',nameRotate:90,nameGap:127,nameTextStyle:{fontFamily:font,fontSize:92,color:'#000'}},
  {gridIndex:0,type:'value',position:'left',min:-5,max:5,interval:1,z:6,axisLine:{show:false,onZero:false},
   axisTick:{show:true,length:9,customValues:yMinor,lineStyle:{width:4.5,color:'#000'}},splitLine:{show:false},axisLabel:{show:false}},
  {gridIndex:0,type:'value',position:'right',min:-5,max:5,interval:1,z:6,axisLine:{show:true,onZero:false,...spine},axisTick:{show:false},splitLine:{show:false},axisLabel:{show:false}},
  {gridIndex:1,type:'value',position:'right',min:0,max:1,interval:.2,z:6,axisLine:{show:true,onZero:false,...spine},
   axisTick:{show:true,length:18,lineStyle:{width:4.5,color:'#000'}},splitLine:{show:false},
   axisLabel:{margin:32,color:'#000',fontFamily:font,fontSize:92,formatter:v=>v.toFixed(1)}},
  {gridIndex:1,type:'value',position:'left',min:0,max:1,interval:.2,z:6,axisLine:{show:true,onZero:false,...spine},axisTick:{show:false},splitLine:{show:false},axisLabel:{show:false}}
 ],
 series
});
</script></body></html>
